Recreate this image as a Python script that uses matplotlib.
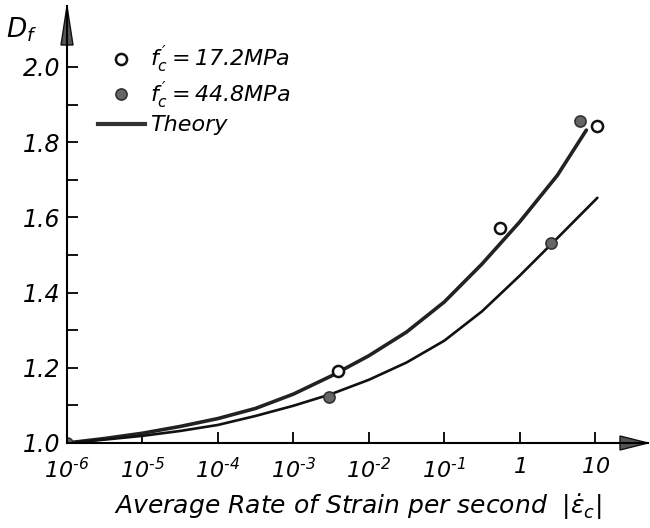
import matplotlib
matplotlib.use('Agg')
import matplotlib.pyplot as plt
from matplotlib.patches import Polygon
from matplotlib.lines import Line2D

# Данные
strain_open = [3.85e-3, 0.555, 10.5]        # f'c = 17.2 MPa
d_open = [1.191, 1.573, 1.843]
strain_filled = [1e-6, 3.0e-3, 2.63, 6.24]  # f'c = 44.8 MPa
d_filled = [1.0, 1.121, 1.533, 1.856]

# Теоретические кривые (точки вдоль линий, через пол-декады)
theory_upper_x = [1e-6, 3.16e-6, 1e-5, 3.16e-5, 1e-4, 3.16e-4, 1e-3, 3.16e-3,
                  1e-2, 3.16e-2, 0.1, 0.316, 1.0, 3.16, 7.64]
theory_upper_d = [1.000, 1.012, 1.026, 1.044, 1.065, 1.092, 1.130, 1.178,
                  1.232, 1.295, 1.375, 1.476, 1.588, 1.712, 1.832]
theory_lower_x = [1e-6, 3.16e-6, 1e-5, 3.16e-5, 1e-4, 3.16e-4, 1e-3, 3.16e-3,
                  1e-2, 3.16e-2, 0.1, 0.316, 1.0, 3.16, 10.7]
theory_lower_d = [1.000, 1.009, 1.019, 1.032, 1.048, 1.072, 1.099, 1.130,
                  1.168, 1.214, 1.272, 1.350, 1.445, 1.545, 1.652]

x_ticks = [1e-6, 1e-5, 1e-4, 1e-3, 1e-2, 1e-1, 1, 10]
x_tick_labels = ['$10^{\u20106}$', '$10^{\u20105}$', '$10^{\u20104}$', '$10^{\u20103}$',
                 '$10^{\u20102}$', '$10^{\u20101}$', '$1$', '$10$']
y_ticks = [1.0, 1.1, 1.2, 1.3, 1.4, 1.5, 1.6, 1.7, 1.8, 1.9, 2.0]
y_tick_labels = ['1.0', '', '1.2', '', '1.4', '', '1.6', '', '1.8', '', '2.0']

plt.rcParams['font.family'] = ['DejaVu Sans']
plt.rcParams['mathtext.fontset'] = 'custom'
plt.rcParams['mathtext.it'] = 'DejaVu Sans:italic'
plt.rcParams['mathtext.rm'] = 'DejaVu Sans:italic'
plt.rcParams['mathtext.default'] = 'it'

fig = plt.figure(figsize=(6.5, 5.28), dpi=100)
# оси: слева x=67px, справа 648px, снизу y=443px, сверху 6px
ax = fig.add_axes([67 / 650, (528 - 443) / 528, 581 / 650, 437 / 528])

# 1. Кривые теории
ax.plot(theory_upper_x, theory_upper_d, color='#222222', lw=2.6, solid_capstyle='round')
ax.plot(theory_lower_x, theory_lower_d, color='#111111', lw=1.9, solid_capstyle='round')

# 2. Точки эксперимента
ax.plot(strain_open, d_open, 'o', ms=8, mfc='white', mec='#111111', mew=1.8)
ax.plot(strain_filled, d_filled, 'o', ms=8, mfc='#666666', mec='#333333', mew=1.2)

ax.set_xscale('log')
ax.set_xlim(1e-6, 10 ** 1.7)
ax.set_ylim(1.0, 2.162)

ax.set_xticks(x_ticks)
ax.set_xticklabels(x_tick_labels)
ax.minorticks_off()
ax.set_yticks(y_ticks)
ax.set_yticklabels(y_tick_labels)
ax.tick_params(direction='in', length=8, width=1.3)
ax.tick_params(axis='x', labelsize=16, pad=10)
ax.tick_params(axis='y', labelsize=17, pad=5)
for lab in ax.get_yticklabels():
    lab.set_fontstyle('italic')

for s in ['top', 'right']:
    ax.spines[s].set_visible(False)
for s in ['left', 'bottom']:
    ax.spines[s].set_linewidth(1.5)

ax.set_xlabel(r'Average Rate of Strain per second  $|\dot{\varepsilon}_c|$',
              fontsize=18, fontstyle='italic', labelpad=7)

# 3. Стрелки осей
w = 581.0
h = 437.0
y_arrow = Polygon([(-6 / w, 398 / h), (6 / w, 398 / h), (0, 1.0)], closed=True,
                  transform=ax.transAxes, clip_on=False, fc='#555555', ec='#111111', lw=1)
x_arrow = Polygon([(553 / w, -7 / h), (553 / w, 7 / h), (1.0, 0)], closed=True,
                  transform=ax.transAxes, clip_on=False, fc='#555555', ec='#111111', lw=1)
ax.add_patch(y_arrow)
ax.add_patch(x_arrow)

fig.text(6 / 650, 1 - 30 / 528, r'$D_f$', fontsize=19, va='center', ha='left')

# 4. Легенда
handles = [
    Line2D([], [], ls='none', marker='o', ms=8, mfc='white', mec='#111111', mew=1.8),
    Line2D([], [], ls='none', marker='o', ms=8, mfc='#666666', mec='#333333', mew=1.2),
    Line2D([], [], color='#333333', lw=3),
]
labels = [r"$f^{\,\prime}_{c}=17.2MPa$", r"$f^{\,\prime}_{c}=44.8MPa$", 'Theory']
leg = ax.legend(handles, labels, loc='upper left', bbox_to_anchor=(31 / w, 1 - 38 / h),
                frameon=False, fontsize=16, handlelength=2.1, handletextpad=0.25,
                labelspacing=0.2, borderaxespad=0, borderpad=0)
for t in leg.get_texts():
    t.set_fontstyle('italic')

fig.savefig('out.png', dpi=100)
